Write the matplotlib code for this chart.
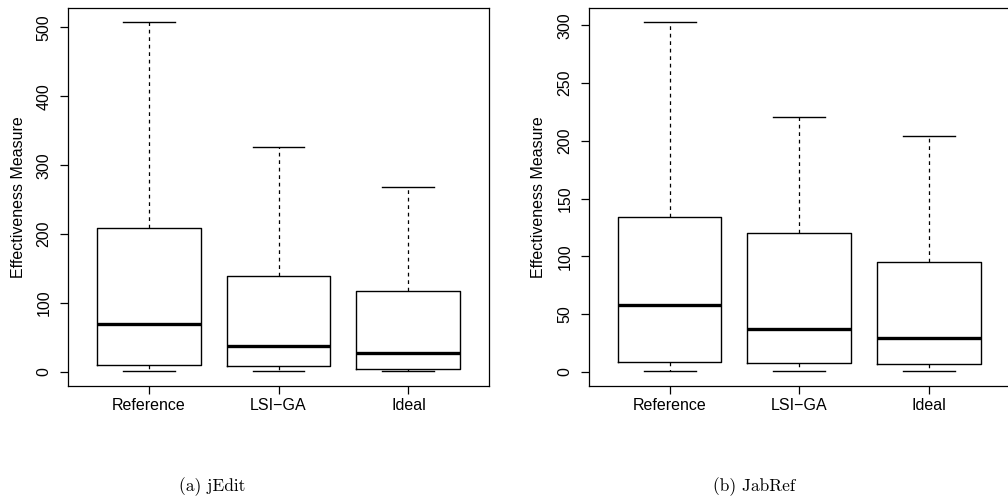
import matplotlib
matplotlib.use("Agg")
import matplotlib.pyplot as plt

groups = ["Reference", "LSI\u2212GA", "Ideal"]

# jEdit: whisker low, Q1, median, Q3, whisker high
jedit_low = [1, 1, 1]
jedit_q1 = [10, 8, 4]
jedit_med = [69, 38, 27]
jedit_q3 = [209, 140, 117]
jedit_high = [508, 327, 269]

# JabRef
jabref_low = [1, 1, 1]
jabref_q1 = [8.7, 7.5, 6.9]
jabref_med = [58, 37, 29]
jabref_q3 = [134, 120, 95]
jabref_high = [303, 221, 204]

jedit_ticks = [0, 100, 200, 300, 400, 500]
jabref_ticks = [0, 50, 100, 150, 200, 250, 300]

plt.rcParams['font.family'] = ['Liberation Sans', 'DejaVu Sans']
fs = 11.5


def make_stats(low, q1, med, q3, high):
    return [dict(whislo=a, q1=b, med=c, q3=d, whishi=e, fliers=[])
            for a, b, c, d, e in zip(low, q1, med, q3, high)]


def draw(ax, stats, ticks, top):
    pos = [1, 2, 3]
    ax.bxp(stats, positions=pos, widths=0.8, capwidths=0.4, showfliers=False,
           boxprops=dict(color='black', lw=1.0),
           medianprops=dict(color='black', lw=2.4, solid_capstyle='butt'),
           whiskerprops=dict(color='black', lw=0.9, linestyle=(0, (3, 3))),
           capprops=dict(color='black', lw=1.0))
    ext = 0.04 * top
    ax.set_ylim(-ext, top + ext)
    ax.set_xlim(0.38, 3.62)
    ax.set_xticks(pos)
    ax.set_xticklabels(groups, fontsize=fs)
    ax.set_yticks(ticks)
    ax.set_yticklabels([str(t) for t in ticks], fontsize=fs, rotation=90, va='center')
    ax.tick_params(axis='y', length=5.8, width=0.9, pad=6)
    ax.tick_params(axis='x', length=5.8, width=0.9, pad=3)
    ax.set_ylabel("Effectiveness Measure", fontsize=fs, labelpad=8)
    for s in ax.spines.values():
        s.set_linewidth(0.9)


fig = plt.figure(figsize=(10.08, 4.99), dpi=100)
ax1 = fig.add_axes([0.0675, 0.2265, 0.4176, 0.7575])
ax2 = fig.add_axes([0.5843, 0.2265, 0.4176, 0.7575])

draw(ax1, make_stats(jedit_low, jedit_q1, jedit_med, jedit_q3, jedit_high), jedit_ticks, 508)
draw(ax2, make_stats(jabref_low, jabref_q1, jabref_med, jabref_q3, jabref_high), jabref_ticks, 303)

fig.text(212 / 1008, 1 - 487 / 499, "(a) jEdit", family='cmr10', fontsize=12.5,
         ha='center', va='center')
fig.text(754 / 1008, 1 - 487 / 499, "(b) JabRef", family='cmr10', fontsize=12.5,
         ha='center', va='center')

fig.savefig("out.png", dpi=100)
